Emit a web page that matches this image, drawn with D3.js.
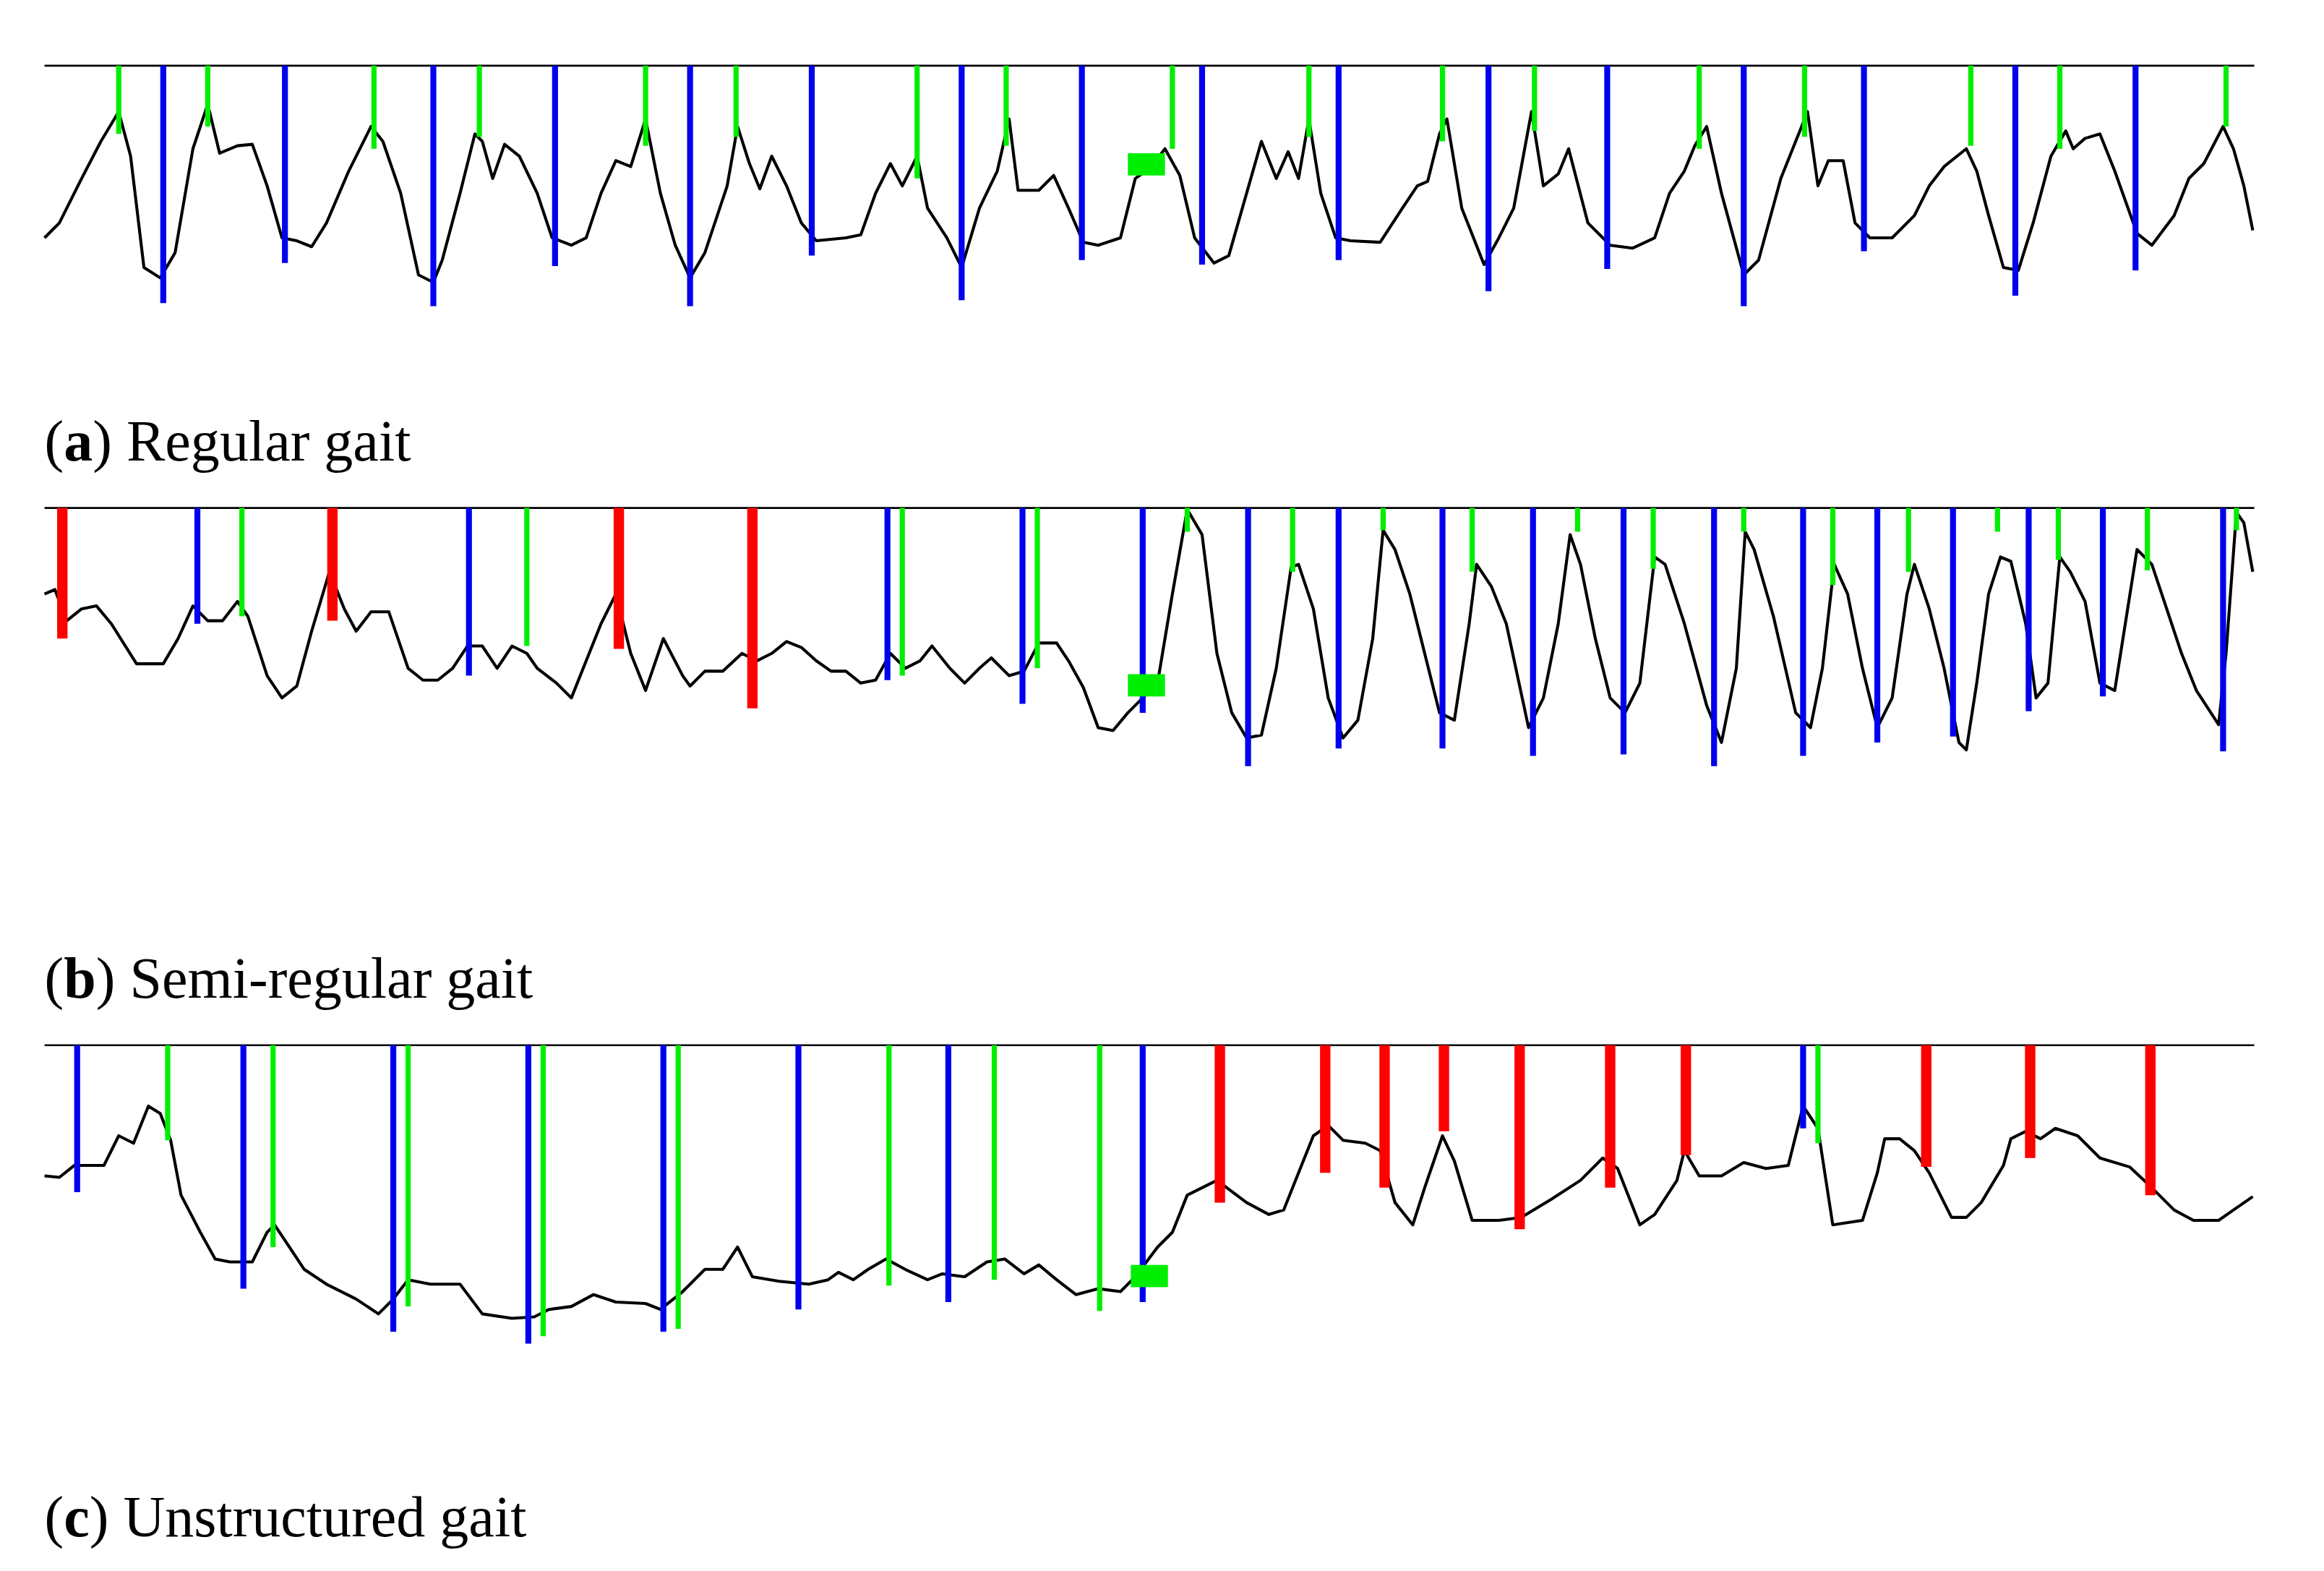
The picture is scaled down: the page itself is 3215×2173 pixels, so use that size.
<!DOCTYPE html>
<html><head><meta charset="utf-8">
<script src="https://cdn.jsdelivr.net/npm/d3@7"></script>
<style>body{margin:0;background:#fff}</style></head>
<body><svg id="c"></svg>
<script>
// signals: [time, depth below reference line]
const sigA=[[30,160],[40,150],[55,120],[68,95],[80,75],[88,105],[97,180],[108,187],[118,170],[130,100],[140,70],[148,103],[160,98],[170,97],[180,125],[190,160],[200,162],[210,166],[220,150],[235,115],[250,85],[258,95],[270,130],[282,185],[292,190],[298,175],[310,130],[320,90],[325,95],[332,120],[340,97],[350,105],[362,130],[372,160],[385,165],[395,160],[405,130],[415,108],[425,112],[435,80],[445,130],[455,165],[465,187],[475,170],[490,125],[497,85],[505,110],[512,127],[520,105],[530,125],[540,150],[550,162],[570,160],[580,158],[590,130],[600,110],[608,125],[618,105],[625,140],[638,160],[648,180],[660,140],[672,115],[680,80],[686,128],[700,128],[710,118],[720,140],[730,163],[740,165],[755,160],[765,120],[775,113],[785,100],[795,118],[805,160],[818,177],[828,172],[840,130],[850,95],[860,120],[868,102],[875,120],[882,80],[890,130],[900,160],[910,162],[930,163],[945,140],[955,125],[962,122],[970,90],[975,80],[985,140],[1000,178],[1010,160],[1020,140],[1032,75],[1040,125],[1050,117],[1057,100],[1070,150],[1085,165],[1100,167],[1115,160],[1125,130],[1135,115],[1142,98],[1150,85],[1160,130],[1175,185],[1185,175],[1200,120],[1210,95],[1218,75],[1225,125],[1232,108],[1242,108],[1250,150],[1260,160],[1275,160],[1290,145],[1300,125],[1310,112],[1325,100],[1332,115],[1340,145],[1350,180],[1360,182],[1370,150],[1382,105],[1392,88],[1397,100],[1405,93],[1415,90],[1425,115],[1440,157],[1450,165],[1465,145],[1475,120],[1485,110],[1498,85],[1505,100],[1512,125],[1518,155]].map(d=>[d[0],d[1]-44]);
const sigB=[[30,400],[37,397],[45,418],[55,410],[65,408],[75,420],[92,447],[110,447],[120,430],[130,408],[140,418],[150,418],[160,405],[167,415],[180,455],[190,470],[200,462],[210,425],[222,385],[232,410],[240,425],[250,412],[262,412],[275,450],[285,458],[295,458],[305,450],[315,435],[325,435],[335,450],[345,435],[355,440],[362,450],[375,460],[385,470],[395,445],[405,420],[415,400],[425,440],[435,465],[447,430],[460,455],[465,462],[475,452],[487,452],[500,440],[510,445],[520,440],[530,432],[540,436],[550,445],[560,452],[570,452],[580,460],[590,458],[600,440],[610,450],[620,445],[628,435],[640,450],[650,460],[660,450],[668,443],[680,455],[690,452],[700,433],[712,433],[720,445],[730,463],[740,490],[750,492],[760,480],[770,470],[780,460],[790,400],[800,343],[810,360],[820,440],[830,480],[840,497],[850,495],[860,450],[870,382],[875,380],[885,410],[895,470],[905,497],[915,485],[925,430],[932,357],[940,370],[950,400],[960,440],[970,480],[980,485],[990,420],[995,380],[1005,395],[1015,420],[1030,490],[1040,470],[1050,420],[1058,360],[1065,380],[1075,430],[1085,470],[1095,480],[1105,460],[1115,375],[1122,380],[1135,420],[1150,475],[1160,500],[1170,450],[1176,358],[1182,370],[1195,415],[1210,480],[1220,490],[1228,450],[1236,380],[1245,400],[1255,450],[1265,490],[1275,470],[1285,400],[1290,380],[1300,410],[1310,450],[1320,500],[1325,505],[1332,460],[1340,400],[1348,375],[1355,378],[1365,420],[1372,470],[1380,460],[1388,375],[1395,385],[1405,405],[1415,460],[1425,465],[1440,370],[1450,380],[1460,410],[1470,440],[1480,465],[1495,488],[1500,440],[1507,345],[1512,352],[1518,385]].map(d=>[d[0],d[1]-342]);
const sigC=[[30,792],[40,793],[50,785],[60,785],[70,785],[80,765],[90,770],[100,745],[108,750],[115,768],[122,805],[135,830],[145,848],[155,850],[170,850],[180,830],[185,825],[195,840],[205,855],[220,865],[240,875],[255,885],[265,875],[275,862],[290,865],[310,865],[325,885],[345,888],[360,887],[370,882],[385,880],[400,872],[415,877],[435,878],[445,882],[460,870],[475,855],[487,855],[497,840],[507,860],[525,863],[545,865],[558,862],[565,857],[575,862],[585,855],[597,848],[610,855],[625,862],[635,858],[650,860],[665,850],[677,848],[690,858],[700,852],[712,862],[725,872],[740,868],[755,870],[765,860],[780,840],[790,830],[800,805],[820,795],[840,810],[855,818],[865,815],[875,790],[885,765],[895,758],[905,768],[920,770],[930,775],[940,810],[952,825],[960,800],[972,765],[980,782],[992,822],[1010,822],[1025,820],[1045,808],[1065,795],[1080,780],[1090,787],[1105,825],[1115,818],[1130,795],[1135,775],[1145,792],[1160,792],[1175,783],[1190,787],[1205,785],[1215,745],[1225,760],[1235,825],[1255,822],[1265,790],[1270,767],[1280,767],[1290,775],[1300,790],[1315,820],[1325,820],[1335,810],[1350,785],[1355,767],[1365,762],[1375,767],[1385,760],[1400,765],[1415,780],[1435,786],[1450,800],[1465,815],[1478,822],[1495,822],[1505,815],[1518,806]].map(d=>[d[0],d[1]-704]);
// event markers: [time, depth]
const greenA=[[80,90],[140,85],[252,100],[323,92],[435,98],[496,92],[618,120],[678,98],[790,100],[882,92],[972,95],[1034,88],[1145,100],[1216,92],[1328,98],[1388,100],[1500,85]].map(d=>[d[0],d[1]-44]);
const blueA=[[110,204],[192,177],[292,206],[374,179],[465,206],[547,172],[648,202],[729,175],[810,178],[902,175],[1003,196],[1083,181],[1175,206],[1256,169],[1358,199],[1439,182]].map(d=>[d[0],d[1]-44]);
const redA=[];
const redB=[[42,430],[224,418],[417,437],[507,477]].map(d=>[d[0],d[1]-342]);
const blueB=[[133,420],[316,455],[598,458],[689,474],[770,480],[841,516],[902,504],[972,504],[1033,509],[1094,508],[1155,516],[1215,509],[1265,500],[1316,496],[1367,479],[1417,469],[1498,506]].map(d=>[d[0],d[1]-342]);
const greenB=[[163,415],[355,435],[608,455],[699,450],[800,358],[871,385],[932,357],[992,385],[1063,358],[1114,383],[1175,358],[1235,394],[1286,385],[1346,358],[1387,377],[1447,384],[1507,357]].map(d=>[d[0],d[1]-342]);
const blueC=[[52,803],[164,868],[265,897],[356,905],[447,897],[538,882],[639,877],[770,877],[1215,760]].map(d=>[d[0],d[1]-704]);
const greenC=[[113,768],[184,840],[275,880],[366,900],[457,895],[599,866],[670,862],[741,883],[1225,770]].map(d=>[d[0],d[1]-704]);
const redC=[[822,810],[893,790],[933,800],[973,762],[1024,828],[1085,800],[1136,778],[1298,786],[1368,780],[1449,805]].map(d=>[d[0],d[1]-704]);
const squares=[[772,66],[772,119],[774,155]];
const letters=["a","b","c"];
const captions=[" Regular gait"," Semi-regular gait"," Unstructured gait"];

const W=1566,H=1058;
const svg=d3.select("#c").attr("width",3215).attr("height",2173).attr("viewBox",`0 0 ${W} ${H}`);
const x=d3.scaleLinear().domain([30,1519]).range([30,1519]);
const panels=[{top:44,sig:sigA,g:greenA,b:blueA,r:redA},{top:342,sig:sigB,g:greenB,b:blueB,r:redB},{top:704,sig:sigC,g:greenC,b:blueC,r:redC}];
panels.forEach((p,i)=>{
  const y=d3.scaleLinear().domain([0,200]).range([p.top,p.top+200]);
  const g=svg.append("g");
  g.append("line").attr("x1",x(30)).attr("x2",x(1519)).attr("y1",y(0)).attr("y2",y(0)).attr("stroke","#000").attr("stroke-width",1.3);
  g.append("path").datum(p.sig).attr("fill","none").attr("stroke","#000").attr("stroke-width",2)
    .attr("stroke-linejoin","round").attr("d",d3.line().x(d=>x(d[0])).y(d=>y(d[1])));
  const mk=(arr,col,w)=>g.selectAll(null).data(arr).enter().append("line")
    .attr("x1",d=>x(d[0])).attr("x2",d=>x(d[0])).attr("y1",y(0)).attr("y2",d=>y(d[1]))
    .attr("stroke",col).attr("stroke-width",w);
  mk(p.g,"#00ee00",3.5); mk(p.b,"#0000ee",4); mk(p.r,"#ff0000",7);
  const s=squares[i];
  g.append("rect").attr("x",x(s[0])-12).attr("y",y(s[1])-7).attr("width",25).attr("height",15).attr("fill","#00ee00");
  const cy=[300,662,1025][i];
  const t=g.append("text").attr("x",30).attr("y",cy+10).attr("font-family","'Liberation Serif','DejaVu Serif',serif").attr("font-size",39).attr("fill","#000");
  t.append("tspan").text("(");
  t.append("tspan").attr("font-weight","bold").text(letters[i]);
  t.append("tspan").text(")"+captions[i]);
});
</script></body></html>
